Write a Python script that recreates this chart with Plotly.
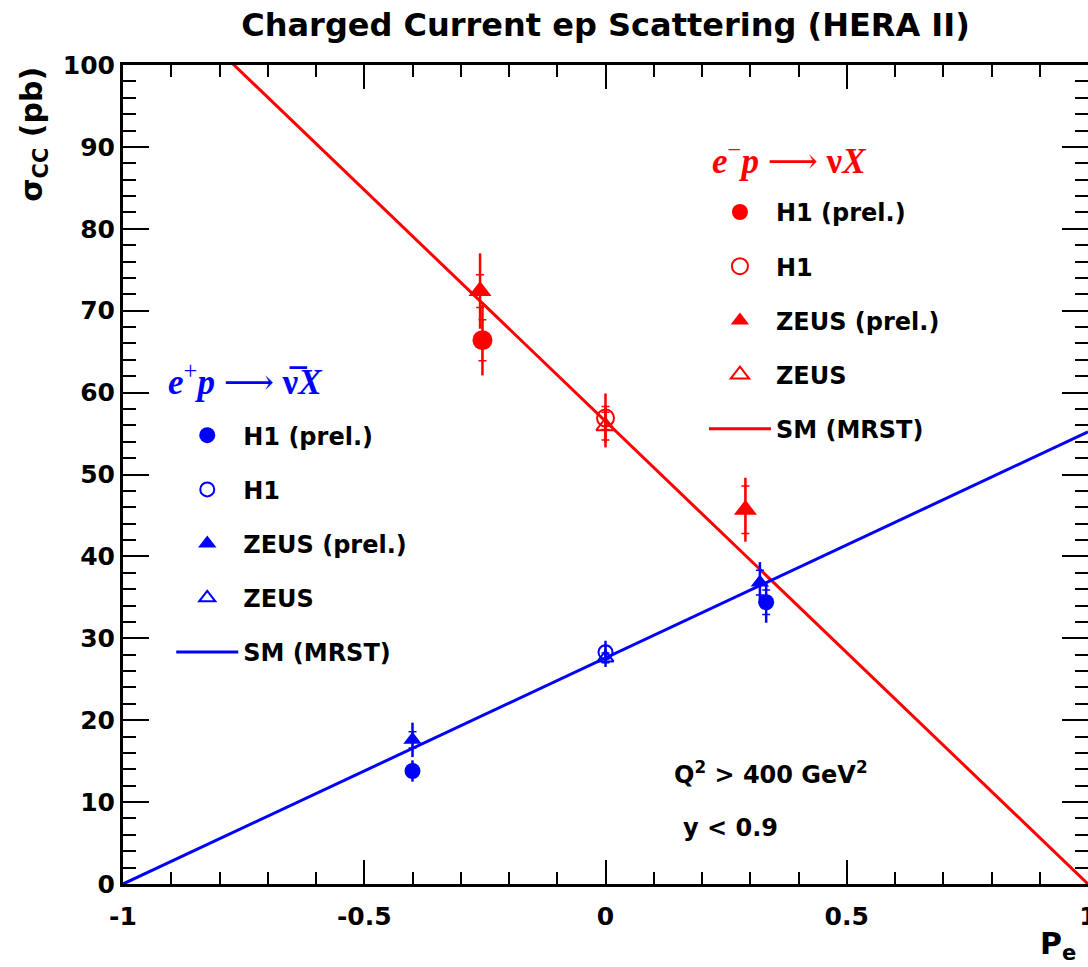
import plotly.graph_objects as go

RED = "#ff0000"
BLUE = "#0000ff"

# ---- Standard Model (MRST) predictions: endpoints at P = -1 and P = +1 ----
sm_pol = [-1.0, 1.0]
sm_em = [113.0, 0.0]     # e- p -> nu X
sm_ep = [0.0, 55.2]      # e+ p -> nubar X

# ---- e- p data ----
em_h1p_P, em_h1p_s, em_h1p_tot, em_h1p_stat = [-0.255], [66.4], [4.3], [2.5]
em_h1_P, em_h1_s, em_h1_tot, em_h1_stat = [0.0], [56.9], [3.0], [1.4]
em_zp_P, em_zp_s, em_zp_tot, em_zp_stat = [-0.26, 0.29], [72.4, 45.7], [4.6, 3.9], [2.0, 2.9]
em_z_P, em_z_s, em_z_tot, em_z_stat = [0.0], [55.9], [2.6], [1.7]

# ---- e+ p data ----
ep_h1p_P, ep_h1p_s, ep_h1p_tot, ep_h1p_stat = [-0.40, 0.333], [13.8, 34.4], [1.3, 2.5], [0.7, 1.5]
ep_h1_P, ep_h1_s, ep_h1_tot, ep_h1_stat = [0.0], [28.3], [1.4], [0.8]
ep_zp_P, ep_zp_s, ep_zp_tot, ep_zp_stat = [-0.40, 0.32], [17.6, 36.8], [2.1, 2.5], [1.0, 1.5]
ep_z_P, ep_z_s, ep_z_tot, ep_z_stat = [0.0], [27.6], [1.1], [0.6]

x_tickvals = [-1, -0.5, 0, 0.5, 1]
x_ticktext = ["-1", "-0.5", "0", "0.5", "1"]
y_tickvals = [0, 10, 20, 30, 40, 50, 60, 70, 80, 90, 100]
y_ticktext = [str(v) for v in y_tickvals]

fig = go.Figure()


def add_series(P, s, tot, stat, color, symbol, size, name, legend, group, lw=0):
    # total error bar
    fig.add_trace(go.Scatter(
        x=P, y=s, mode="markers", showlegend=False, legend=legend,
        marker=dict(color="rgba(0,0,0,0)", size=1),
        error_y=dict(type="data", array=tot, visible=True, color=color,
                     thickness=2.5, width=0),
        hoverinfo="skip"))
    # statistical error ticks
    fig.add_trace(go.Scatter(
        x=P, y=s, mode="markers", showlegend=False, legend=legend,
        marker=dict(color="rgba(0,0,0,0)", size=1),
        error_y=dict(type="data", array=stat, visible=True, color=color,
                     thickness=1.5, width=4),
        hoverinfo="skip"))
    mk = dict(color=color, size=size, symbol=symbol)
    if lw:
        mk["line"] = dict(color=color, width=lw)
    fig.add_trace(go.Scatter(
        x=P, y=s, mode="markers", name=name, legend=legend,
        legendgroup=group, marker=mk))


fig.add_trace(go.Scatter(x=sm_pol, y=sm_em, mode="lines", showlegend=False,
                         line=dict(color=RED, width=3)))
fig.add_trace(go.Scatter(x=sm_pol, y=sm_ep, mode="lines", showlegend=False,
                         line=dict(color=BLUE, width=3)))

# e- p (red legend -> legend2)
add_series(em_h1p_P, em_h1p_s, em_h1p_tot, em_h1p_stat, RED, "circle", 20, "H1 (prel.)", "legend2", "r1")
add_series(em_h1_P, em_h1_s, em_h1_tot, em_h1_stat, RED, "circle-open", 17, "H1", "legend2", "r2", lw=2)
add_series(em_zp_P, em_zp_s, em_zp_tot, em_zp_stat, RED, "triangle-up", 20, "ZEUS (prel.)", "legend2", "r3")
add_series(em_z_P, em_z_s, em_z_tot, em_z_stat, RED, "triangle-up-open", 16, "ZEUS", "legend2", "r4", lw=2)
fig.add_trace(go.Scatter(x=[None], y=[None], mode="lines", name="SM (MRST)",
                         legend="legend2", legendgroup="r5",
                         line=dict(color=RED, width=3)))

# e+ p (blue legend)
add_series(ep_h1p_P, ep_h1p_s, ep_h1p_tot, ep_h1p_stat, BLUE, "circle", 16, "H1 (prel.)", "legend", "b1")
add_series(ep_h1_P, ep_h1_s, ep_h1_tot, ep_h1_stat, BLUE, "circle-open", 14, "H1", "legend", "b2", lw=2)
add_series(ep_zp_P, ep_zp_s, ep_zp_tot, ep_zp_stat, BLUE, "triangle-up", 16, "ZEUS (prel.)", "legend", "b3")
add_series(ep_z_P, ep_z_s, ep_z_tot, ep_z_stat, BLUE, "triangle-up-open", 14, "ZEUS", "legend", "b4", lw=2)
fig.add_trace(go.Scatter(x=[None], y=[None], mode="lines", name="SM (MRST)",
                         legend="legend", legendgroup="b5",
                         line=dict(color=BLUE, width=3)))

FONT = "DejaVu Sans"
SERIF = "Liberation Serif, DejaVu Serif, serif"

legend_common = dict(
    xanchor="left", yanchor="top", bgcolor="rgba(0,0,0,0)", borderwidth=0,
    font=dict(family=FONT, size=24, color="black", weight="bold"),
    itemwidth=62, tracegroupgap=20, traceorder="grouped",
)

fig.update_layout(
    width=1088, height=967,
    margin=dict(l=123, r=0, t=65, b=83, autoexpand=False),
    plot_bgcolor="white", paper_bgcolor="white",
    showlegend=True,
    title=dict(text="Charged Current ep Scattering (HERA II)", x=0.5, xref="paper",
               xanchor="center", y=1 - 25 / 967, yanchor="middle",
               font=dict(family=FONT, size=32, color="black", weight="bold")),
    legend=dict(x=0.050, y=0.5750, **legend_common),
    legend2=dict(x=0.602, y=0.8475, **legend_common),
    xaxis=dict(range=[-1, 1], tickvals=x_tickvals, ticktext=x_ticktext,
               automargin=False,
               showgrid=False, zeroline=False, showline=True, linecolor="black",
               linewidth=3, mirror="ticks", ticks="inside", ticklen=24, tickwidth=2,
               tickcolor="black", ticklabelstandoff=8, ticklabeloverflow="allow",
               tickfont=dict(family=FONT, size=25, color="black", weight="bold"),
               minor=dict(dtick=0.1, ticks="inside", ticklen=12, tickwidth=2, tickcolor="black",
                          showgrid=False)),
    yaxis=dict(range=[0, 100], tickvals=y_tickvals, ticktext=y_ticktext,
               automargin=False,
               showgrid=False, zeroline=False, showline=True, linecolor="black",
               linewidth=3, mirror="ticks", ticks="inside", ticklen=26, tickwidth=2,
               tickcolor="black",
               tickfont=dict(family=FONT, size=25, color="black", weight="bold"),
               minor=dict(dtick=2, ticks="inside", ticklen=13, tickwidth=2, tickcolor="black",
                          showgrid=False)),
    annotations=[
        dict(text="<b><i>e</i></b><sup>+</sup><b><i>p</i></b> ⟶ <b>ν̅</b><b><i>X</i></b>",
             xref="paper", yref="paper", x=0.127, y=0.6154, showarrow=False,
             xanchor="center", yanchor="middle",
             font=dict(family=SERIF, size=35, color=BLUE)),
        dict(text="<b><i>e</i></b><sup>−</sup><b><i>p</i></b> ⟶ <b>ν</b><b><i>X</i></b>",
             xref="paper", yref="paper", x=0.691, y=0.8864, showarrow=False,
             xanchor="center", yanchor="middle",
             font=dict(family=SERIF, size=35, color=RED)),
        dict(text="σ<sub>CC</sub> (pb)", xref="paper", yref="paper",
             x=-0.093, y=0.915, textangle=-90, showarrow=False,
             xanchor="center", yanchor="middle",
             font=dict(family=FONT, size=30, color="black", weight="bold")),
        dict(text="P<sub>e</sub>", xref="paper", yref="paper",
             x=0.99, y=-0.075, showarrow=False, xanchor="right", yanchor="middle",
             font=dict(family=FONT, size=30, color="black", weight="bold")),
        dict(text="Q<sup>2</sup> &gt; 400 GeV<sup>2</sup>", xref="paper", yref="paper",
             x=0.6715, y=0.1355, showarrow=False, xanchor="center", yanchor="middle",
             font=dict(family=FONT, size=24, color="black", weight="bold")),
        dict(text="y &lt; 0.9", xref="paper", yref="paper",
             x=0.630, y=0.0684, showarrow=False, xanchor="center", yanchor="middle",
             font=dict(family=FONT, size=24, color="black", weight="bold")),
    ],
)

fig.write_html("out.html")
